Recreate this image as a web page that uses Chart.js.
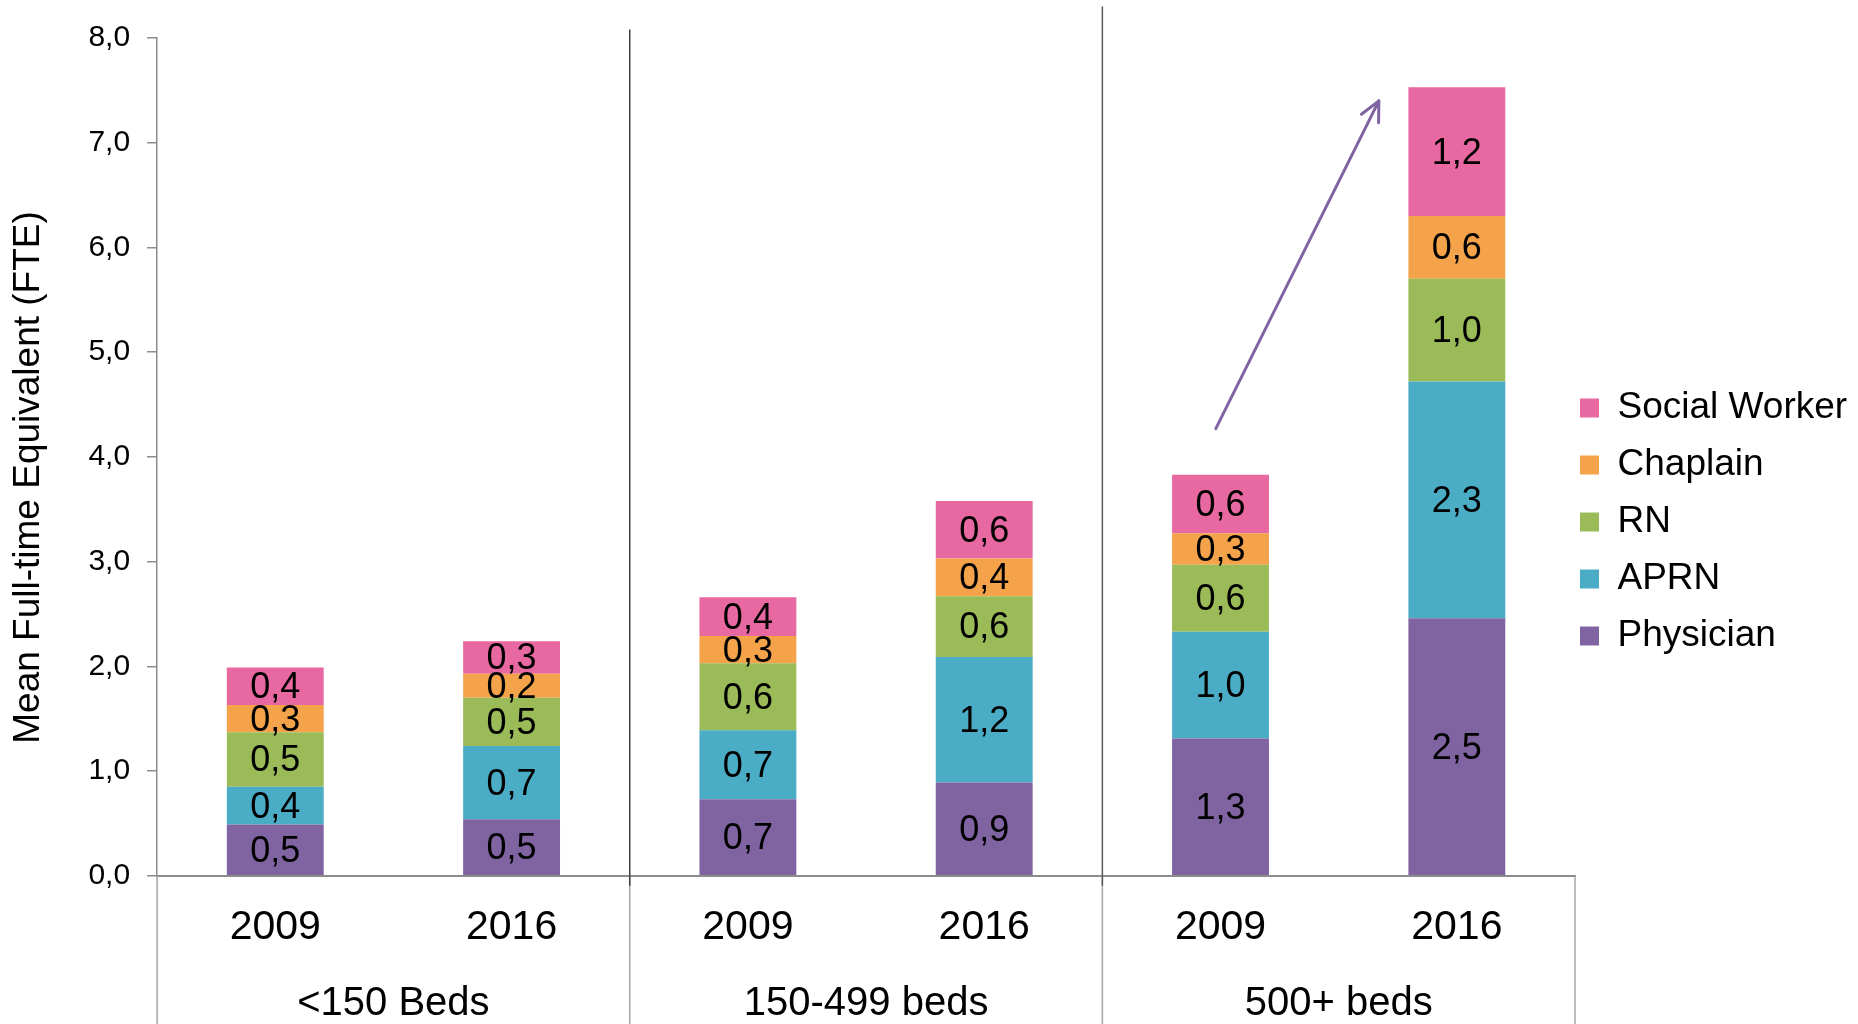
<!DOCTYPE html>
<html>
<head>
<meta charset="utf-8">
<script src="https://cdn.jsdelivr.net/npm/chart.js@4.4.1/dist/chart.umd.min.js"></script>
<style>
  html, body { margin: 0; padding: 0; background: #fff; }
  #wrap { width: 1858px; height: 1024px; }
</style>
</head>
<body>
<div id="wrap"><canvas id="fteChart"></canvas></div>
<script>
// categories
const years = ["2009", "2016", "2009", "2016", "2009", "2016"];
const bedGroups = ["<150 Beds", "150-499 beds", "500+ beds"];

// series (mean FTE, stacked bottom -> top)
const physician    = [0.49, 0.54, 0.73, 0.89, 1.31, 2.46];
const aprn         = [0.36, 0.70, 0.66, 1.20, 1.02, 2.26];
const rn           = [0.52, 0.46, 0.64, 0.58, 0.64, 0.98];
const chaplain     = [0.26, 0.23, 0.26, 0.36, 0.30, 0.60];
const socialWorker = [0.36, 0.31, 0.37, 0.55, 0.56, 1.23];

// arrow from 500+ 2009 to 500+ 2016 (category index, value)
const arrowFrom = [3.98, 4.27];
const arrowTo = [4.67, 7.4];
// dark group dividers: category boundary and top value
const dividerAt = [1.5, 3.5];
const dividerTop = [8.08, 8.3];

const FONT = "'Liberation Sans', Arial, sans-serif";
const fmt = v => v.toFixed(1).replace(".", ",");

// values inside each segment
const segmentLabels = {
  id: "segmentLabels",
  afterDatasetsDraw(chart) {
    const ctx = chart.ctx;
    ctx.save();
    ctx.font = "36px " + FONT;
    ctx.fillStyle = "#000";
    ctx.textAlign = "center";
    ctx.textBaseline = "middle";
    chart.data.datasets.forEach((ds, i) => {
      chart.getDatasetMeta(i).data.forEach((bar, j) => {
        ctx.fillText(fmt(ds.data[j]), bar.x, (bar.y + bar.base) / 2 + 2);
      });
    });
    ctx.restore();
  }
};

// separators between bed groups + arrow
const groupLines = {
  id: "groupLines",
  afterDraw(chart) {
    const { ctx, chartArea, scales: { x, y } } = chart;
    const half = (x.getPixelForValue(1) - x.getPixelForValue(0)) / 2;
    ctx.save();
    // light lines in the label area
    ctx.strokeStyle = "#a6a6a6";
    ctx.lineWidth = 1.5;
    [-0.5, 1.5, 3.5, 5.5].forEach(b => {
      const px = x.getPixelForValue(b - 0.5) + half;
      ctx.beginPath();
      ctx.moveTo(px, chartArea.bottom);
      ctx.lineTo(px, chart.height);
      ctx.stroke();
    });
    // dark dividers in the plot
    dividerAt.forEach((b, k) => {
      const px = x.getPixelForValue(b - 0.5) + half;
      ctx.strokeStyle = k === 0 ? "#404040" : "#595959";
      ctx.lineWidth = 1.5;
      ctx.beginPath();
      ctx.moveTo(px, y.getPixelForValue(dividerTop[k]));
      ctx.lineTo(px, chartArea.bottom + 10);
      ctx.stroke();
    });
    // trend arrow
    const x0 = x.getPixelForValue(arrowFrom[0]), y0 = y.getPixelForValue(arrowFrom[1]);
    const x1 = x.getPixelForValue(arrowTo[0]), y1 = y.getPixelForValue(arrowTo[1]);
    const ang = Math.atan2(y1 - y0, x1 - x0);
    ctx.strokeStyle = "#8064A2";
    ctx.lineWidth = 3;
    ctx.lineCap = "round";
    ctx.beginPath();
    ctx.moveTo(x0, y0);
    ctx.lineTo(x1, y1);
    [-1, 1].forEach(s => {
      ctx.moveTo(x1, y1);
      ctx.lineTo(x1 - 22 * Math.cos(ang + s * 0.45), y1 - 22 * Math.sin(ang + s * 0.45));
    });
    ctx.stroke();
    ctx.restore();
  }
};

// nudge legend next to the plot
const legendShift = {
  id: "legendShift",
  afterLayout(chart) {
    const lg = chart.legend;
    lg.left -= 15;
    lg.top -= 11; lg.bottom -= 11;
  }
};

const ctx = document.getElementById("fteChart").getContext("2d");
new Chart(ctx, {
  type: "bar",
  data: {
    labels: years,
    datasets: [
      { label: "Physician", data: physician, backgroundColor: "#8064A2" },
      { label: "APRN", data: aprn, backgroundColor: "#4BACC6" },
      { label: "RN", data: rn, backgroundColor: "#9BBB59" },
      { label: "Chaplain", data: chaplain, backgroundColor: "#F4A34B" },
      { label: "Social Worker", data: socialWorker, backgroundColor: "#E869A1" }
    ]
  },
  options: {
    responsive: true,
    maintainAspectRatio: false,
    animation: false,
    layout: { padding: { top: 38, right: 0, bottom: -4, left: 0 } },
    datasets: { bar: { categoryPercentage: 1, barPercentage: 0.41, borderWidth: 0 } },
    scales: {
      x: {
        stacked: true,
        offset: true,
        grid: { display: false, drawTicks: false, tickLength: 0 },
        border: { color: "#8c8c8c", width: 2 },
        ticks: { color: "#000", padding: 27, font: { size: 41, family: FONT } }
      },
      x2: {
        type: "category",
        position: "bottom",
        labels: bedGroups,
        offset: true,
        grid: { display: false, drawTicks: false, tickLength: 0 },
        border: { display: false },
        ticks: { color: "#000", padding: 0.5, font: { size: 40, family: FONT } }
      },
      y: {
        stacked: true,
        min: 0,
        max: 8,
        ticks: { stepSize: 1, padding: 17, color: "#000", font: { size: 30, family: FONT }, callback: v => fmt(v) },
        grid: { drawOnChartArea: false, drawTicks: true, tickLength: 10, color: "#8c8c8c", lineWidth: 1.5 },
        border: { color: "#8c8c8c", width: 1.5 },
        title: {
          display: true,
          text: "Mean Full-time Equivalent (FTE)    ",
          color: "#000",
          font: { size: 37, family: FONT },
          padding: { top: 7, bottom: 20 }
        }
      }
    },
    plugins: {
      tooltip: { enabled: false },
      legend: {
        position: "right",
        reverse: true,
        maxWidth: 283,
        labels: { boxWidth: 19, boxHeight: 19, padding: 20, color: "#000", font: { size: 37, family: FONT } }
      }
    }
  },
  plugins: [segmentLabels, groupLines, legendShift]
});
</script>
</body>
</html>
